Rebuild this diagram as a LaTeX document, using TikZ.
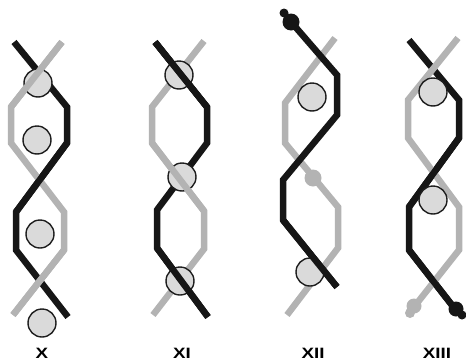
\documentclass[tikz,border=0pt]{standalone}
\usepackage{fontspec}
\setmainfont{Liberation Sans}
\definecolor{strandblack}{HTML}{161616}
\definecolor{strandgray}{HTML}{B3B3B3}
\definecolor{beadfill}{HTML}{DADADA}
\definecolor{beadedge}{HTML}{1E1E1E}
\begin{document}
\begin{tikzpicture}[x=1pt,y=-1pt,
  dark/.style={line width=6.5pt, draw=strandblack, line join=miter},
  light/.style={line width=6.5pt, draw=strandgray, line join=miter},
  bead/.style={circle, draw=beadedge, fill=beadfill, line width=1.4pt,
               minimum size=28pt, inner sep=0pt},
  lbl/.style={font=\fontsize{15}{15}\selectfont\bfseries, inner sep=0pt}]
\useasboundingbox (0,0) rectangle (466,362);

% ---------------- X ----------------
\coordinate (xb1) at (14,42);  \coordinate (xb2) at (67,107);
\coordinate (xb3) at (67,143); \coordinate (xb4) at (16,212);
\coordinate (xb5) at (16,250); \coordinate (xb6) at (68,317);
\coordinate (xg1) at (62,42);  \coordinate (xg2) at (11,107);
\coordinate (xg3) at (11,143); \coordinate (xg4) at (64,212);
\coordinate (xg5) at (64,250); \coordinate (xg6) at (13,315);
\draw[dark] (xb1) -- (xb2) -- (xb3) -- (xb4) -- (xb5) -- (xb6);
\draw[light] (xg1) -- (xg2) -- (xg3) -- (xg4) -- (xg5) -- (xg6);
\draw[dark] (xb3) -- (xb4);
\node[bead] (xc1) at (38,83) {};
\node[bead] (xc2) at (37,140) {};
\node[bead] (xc3) at (40,234) {};
\node[bead] (xc4) at (42,323) {};
\draw[light] (xg1) -- (xg2);
\draw[light] (xg5) -- (xg6);
\node[lbl] (xl) at (42,353) {\scalebox{1.25}[1]{X}};

% ---------------- XI ----------------
\coordinate (yb1) at (155,42);  \coordinate (yb2) at (207,107);
\coordinate (yb3) at (207,143); \coordinate (yb4) at (157,210);
\coordinate (yb5) at (157,248); \coordinate (yb6) at (208,317);
\coordinate (yg1) at (204,41);  \coordinate (yg2) at (152,107);
\coordinate (yg3) at (152,143); \coordinate (yg4) at (204,211);
\coordinate (yg5) at (204,249); \coordinate (yg6) at (153,315);
\draw[light] (yg1) -- (yg2) -- (yg3) -- (yg4) -- (yg5) -- (yg6);
\draw[dark] (yb1) -- (yb2) -- (yb3) -- (yb4) -- (yb5) -- (yb6);
\node[bead] (yc1) at (179,75) {};
\node[bead] (yc2) at (182,177) {};
\node[bead] (yc3) at (180,281) {};
\draw[dark] (yb1) -- (yb2);
\draw[dark] (yb5) -- (yb6);
\draw[light] (yg3) -- (yg4);
\node[lbl] (yl) at (182,353) {\scalebox{1.25}[1]{XI}};

% ---------------- XII ----------------
\coordinate (zb1) at (292,23);  \coordinate (zb2) at (337,75);
\coordinate (zb3) at (337,115); \coordinate (zb4) at (283,180);
\coordinate (zb5) at (283,220); \coordinate (zb6) at (337,287);
\coordinate (zg1) at (335,38);  \coordinate (zg2) at (285,103);
\coordinate (zg3) at (285,143); \coordinate (zg4) at (338,207);
\coordinate (zg5) at (338,248); \coordinate (zg6) at (287,315);
\draw[light] (zg1) -- (zg2) -- (zg3) -- (zg4) -- (zg5) -- (zg6);
\draw[dark] (zb1) -- (zb2) -- (zb3) -- (zb4) -- (zb5) -- (zb6);
\node[bead] (zc1) at (312,97) {};
\fill[strandgray] (313,178) circle[radius=8.5];
\node[bead] (zc3) at (310,272) {};
\draw[dark] (zb5) -- (zb6);
% knob at the top end of the dark strand
\fill[strandblack] (291,22) circle[radius=8.5] (284,13) circle[radius=4.5];
\node[lbl] (zl) at (313,353) {\scalebox{1.25}[1]{XII}};

% ---------------- XIII ----------------
\coordinate (wb1) at (409,40);  \coordinate (wb2) at (459,100);
\coordinate (wb3) at (459,138); \coordinate (wb4) at (409,207);
\coordinate (wb5) at (409,250); \coordinate (wb6) at (455,309);
\coordinate (wg1) at (458,38);  \coordinate (wg2) at (408,100);
\coordinate (wg3) at (408,138); \coordinate (wg4) at (459,207);
\coordinate (wg5) at (459,250); \coordinate (wg6) at (414,307);
\draw[dark] (wb1) -- (wb2) -- (wb3) -- (wb4) -- (wb5) -- (wb6);
\draw[light] (wg1) -- (wg2) -- (wg3) -- (wg4) -- (wg5) -- (wg6);
\draw[dark] (wb3) -- (wb4);
\draw[dark] (wb5) -- (wb6);
\node[bead] (wc1) at (433,92) {};
\node[bead] (wc2) at (433,200) {};
% knobs at the lower ends of both strands
\fill[strandgray] (414,306) circle[radius=7.5] (410,313) circle[radius=5];
\fill[strandblack] (456,309) circle[radius=7.5] (462,315) circle[radius=4.5];
\node[lbl] (wl) at (437,353) {\scalebox{1.25}[1]{XIII}};
\end{tikzpicture}
\end{document}
